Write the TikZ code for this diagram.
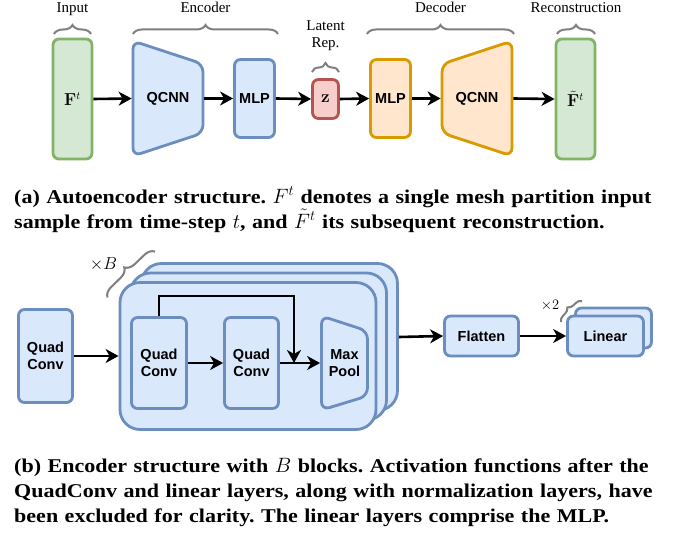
\documentclass[tikz,border=0pt]{standalone}
\usepackage[no-math]{fontspec}
\setmainfont{Liberation Serif}
\setsansfont{Liberation Sans}
\newfontfamily\capfont{Liberation Serif}[FakeStretch=1.13]
\usetikzlibrary{arrows.meta,decorations.pathreplacing}
\definecolor{bfill}{HTML}{DAE8FC}
\definecolor{bdraw}{HTML}{6C8EBF}
\definecolor{ofill}{HTML}{FFE6CC}
\definecolor{odraw}{HTML}{D79B00}
\definecolor{gfill}{HTML}{D5E8D4}
\definecolor{gdraw}{HTML}{82B366}
\definecolor{rfill}{HTML}{F8CECC}
\definecolor{rdraw}{HTML}{B85450}
\definecolor{brgray}{HTML}{7F7F7F}
\newcommand{\capline}[1]{\makebox[640pt][s]{#1}}
\tikzset{
  box/.style={rounded corners=6pt, line width=2.8pt, inner sep=0pt,
    font=\sffamily\bfseries\fontsize{14.5}{17}\selectfont, align=center},
  bluebox/.style={box, fill=bfill, draw=bdraw},
  orangebox/.style={box, fill=ofill, draw=odraw},
  greenbox/.style={box, fill=gfill, draw=gdraw},
  redbox/.style={box, fill=rfill, draw=rdraw},
  mathbox/.style={font=\fontsize{16}{18}\selectfont},
  ghost/.style={inner sep=0pt, outer sep=1.4pt, align=center,
    font=\sffamily\bfseries\fontsize{14.5}{17}\selectfont},
  arr/.style={line width=2.6pt, -{Stealth[length=13pt,width=14pt,inset=4pt]}},
  toplabel/.style={font=\fontsize{15}{17}\selectfont, anchor=base, inner sep=0pt},
  brc/.style={draw=brgray, line width=2pt, decorate,
    decoration={brace, amplitude=#1}},
  brc/.default=9pt,
  caption/.style={anchor=base west, inner sep=0pt, text width=640pt, align=left,
    font=\capfont\bfseries\frenchspacing\fontsize{19.5}{25}\selectfont},
}
\begin{document}
\begin{tikzpicture}[x=1pt,y=-1pt]
\useasboundingbox[fill=white] (0,0) rectangle (683,535);

% ---------------- (a) ----------------
\node[greenbox, mathbox, minimum width=39pt, minimum height=120pt] (inp) at (72.5,99)
  {$\mathbf{F}^t$};

\draw[bluebox, rounded corners=8pt] (133,41) -- (203,64) -- (203,133) -- (133,156) -- cycle;
\node[ghost, minimum width=70pt, minimum height=115pt] (qenc) at (168,98.5) {QCNN};

\node[bluebox, minimum width=40pt, minimum height=78pt] (menc) at (254.5,98.5) {MLP};
\node[redbox, mathbox, minimum width=26pt, minimum height=39pt] (z) at (325.5,99)
  {$\mathbf{z}$};
\node[orangebox, minimum width=40pt, minimum height=78pt] (mdec) at (390.5,98.5) {MLP};

\draw[orangebox, rounded corners=8pt] (442,64) -- (512,41) -- (512,156) -- (442,133) -- cycle;
\node[ghost, minimum width=70pt, minimum height=115pt] (qdec) at (477,98.5) {QCNN};

\node[greenbox, mathbox, minimum width=39pt, minimum height=120pt] (rec) at (575.5,99)
  {$\tilde{\mathbf{F}}^t$};

\draw[arr] (inp.east) -- (qenc.west);
\draw[arr] (qenc.east) -- (menc.west);
\draw[arr] (menc.east) -- (z.west);
\draw[arr] (z.east) -- (mdec.west);
\draw[arr] (mdec.east) -- (qdec.west);
\draw[arr] (qdec.east) -- (rec.west);

% braces and labels
\draw[brc=9pt] (54,34) -- (91,34);
\draw[brc=9pt] (133,34) -- (278,34);
\draw[brc=9pt] (312,72) -- (339,72);
\draw[brc=9pt] (367,34) -- (514,34);
\draw[brc=9pt] (557,34) -- (595,34);

\node[toplabel] (linput) at (72.5,13) {Input};
\node[toplabel] (lenc) at (205.5,13) {Encoder};
\node[toplabel] (llat1) at (325.5,30.7) {Latent};
\node[toplabel] (llat2) at (325.5,48) {Rep.};
\node[toplabel] (ldec) at (440.5,13) {Decoder};
\node[toplabel] (lrec) at (576,13) {Reconstruction};

\node[caption] (capa) at (14,203)
  {\capline{(a) Autoencoder structure. $F^t$ denotes a single mesh partition input}\\
   sample from time-step $t$, and $\tilde{F}^t$ its subsequent reconstruction.};

% ---------------- (b) ----------------
\node[bluebox, minimum width=54pt, minimum height=93pt] (qc0) at (45.5,356) {Quad\\Conv};

\node[bluebox, rounded corners=20pt, minimum width=256pt, minimum height=147pt] (blk3) at (269.5,337) {};
\node[bluebox, rounded corners=20pt, minimum width=256pt, minimum height=147pt] (blk2) at (258.5,346.5) {};
\node[bluebox, rounded corners=20pt, minimum width=256pt, minimum height=147pt] (blk1) at (248,356) {};

\node[bluebox, minimum width=55pt, minimum height=91pt] (qc1) at (159,363) {Quad\\Conv};
\node[bluebox, minimum width=54pt, minimum height=91pt] (qc2) at (251.5,363) {Quad\\Conv};
\draw[bluebox, rounded corners=8pt] (321.5,316) -- (367.5,331) -- (367.5,396) -- (321.5,410) -- cycle;
\node[ghost, minimum width=46pt, minimum height=94pt] (mp) at (344.5,363) {Max\\Pool};
\coordinate (skip) at (294,363);

\draw[arr] (qc0.east) -- (blk1.west);
\draw[arr] (qc1.east) -- (qc2.west);
\draw[arr] (qc2.east) -- (mp.west);
\draw[arr] (qc1.north) -- ++(0,-20) -| (skip);

\node[bluebox, minimum width=74pt, minimum height=40pt] (flat) at (481.5,336) {Flatten};
\node[bluebox, minimum width=76pt, minimum height=40pt] (lin2) at (613.5,328) {};
\node[bluebox, minimum width=76pt, minimum height=40pt] (lin1) at (605.5,336) {Linear};

\draw[arr] (blk3.east) -- (flat.west);
\draw[arr] (flat.east) -- (lin1.west);

\draw[brc=10pt] (107.5,297.5) -- (155,251.5);
\node[font=\fontsize{16}{18}\selectfont, inner sep=0pt] (xb) at (103.5,264) {$\times B$};
\draw[brc=6pt] (561,322) -- (582,301);
\node[font=\fontsize{15}{17}\selectfont, inner sep=0pt] (x2) at (550,305.5) {$\times 2$};

\node[caption] (capb) at (14,472)
  {\capline{(b) Encoder structure with $B$ blocks. Activation functions after the}\\
   \capline{QuadConv and linear layers, along with normalization layers, have}\\
   been excluded for clarity. The linear layers comprise the MLP.};
\end{tikzpicture}
\end{document}
